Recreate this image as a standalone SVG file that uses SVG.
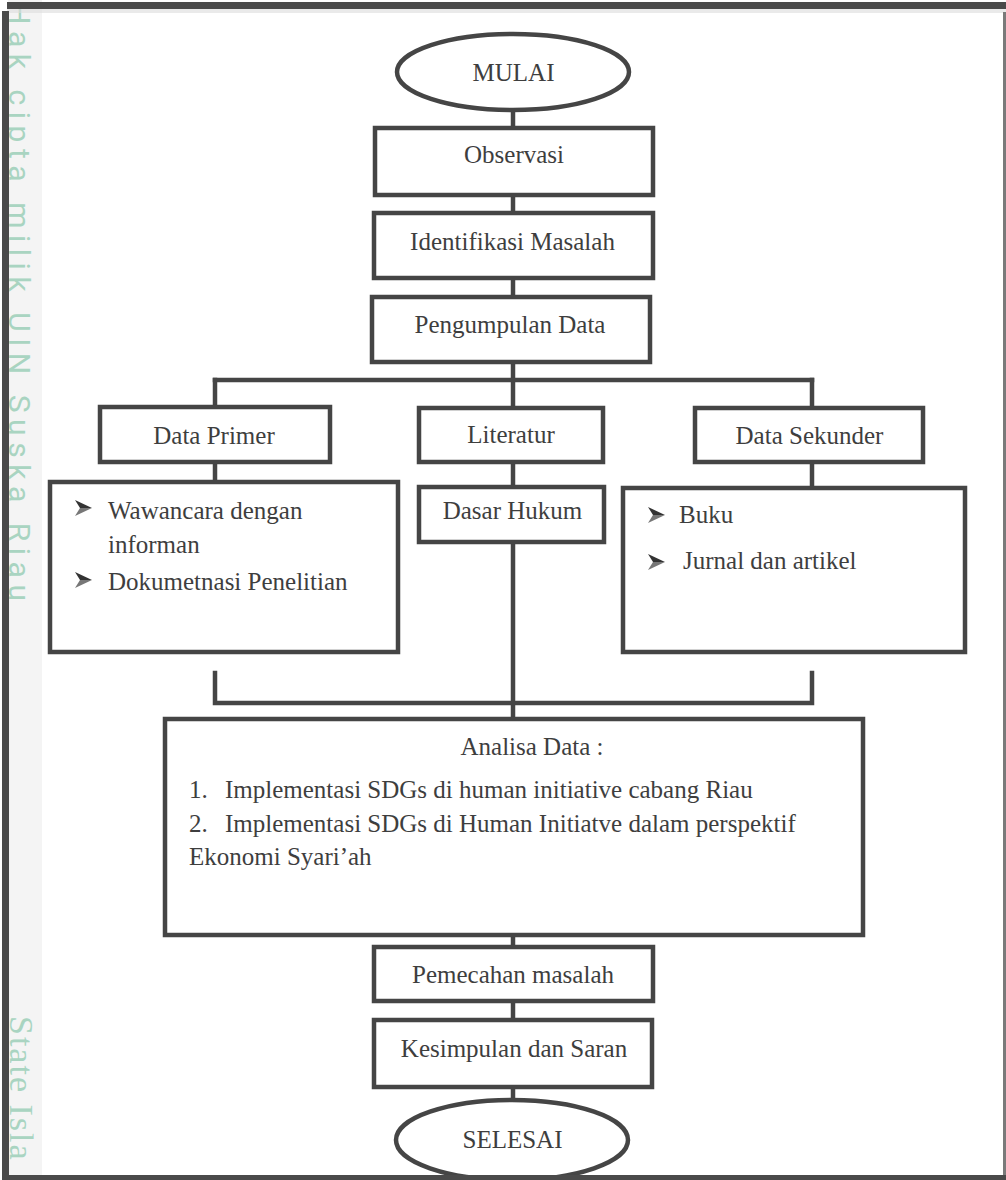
<svg xmlns="http://www.w3.org/2000/svg" width="1006" height="1180" viewBox="0 0 1006 1180">
  <defs>
    <style>
      .box { fill: #ffffff; stroke: #454545; stroke-width: 4.5; }
      .ln { fill: none; stroke: #454545; stroke-width: 4.5; stroke-linecap: square; }
      .t { font-family: "Liberation Serif", "Times New Roman", serif; font-size: 25px; fill: #3e3e3e; }
      .c { text-anchor: middle; }
      .wm { font-family: Roboto, "Liberation Sans", sans-serif; font-size: 30px; fill: #a9d4c1; }
      .wms { font-family: "Liberation Serif", "DejaVu Serif", serif; font-size: 34px; fill: #a9d4c1; }
    </style>
    <g id="bullet">
      <polygon points="0,-8 17,0 5,0" fill="#333333"/>
      <polygon points="0,8 17,0 5,0" fill="#777777"/>
    </g>
  </defs>

  <rect x="0" y="0" width="1006" height="1180" fill="#ffffff"/>

  <!-- watermark strip -->
  <rect x="8" y="0" width="34" height="1180" fill="#f4f4f4"/>
  <text class="wm" transform="translate(9,3) rotate(90)" textLength="598" lengthAdjust="spacing">Hak cipta milik UIN Suska Riau</text>
  <text class="wms" transform="translate(10,1016) rotate(90)" letter-spacing="2">State Isla</text>

  <!-- frame -->
  <rect x="7" y="2" width="999" height="7" fill="#4a4a4a"/>
  <rect x="7" y="9" width="999" height="4" fill="#dcdcdc" opacity="0.6"/>
  <rect x="1003" y="12" width="3" height="1168" fill="#7a7a7a"/>

  <!-- connectors -->
  <g id="connectors">
    <line class="ln" x1="513" y1="111" x2="513" y2="128"/>
    <line class="ln" x1="513" y1="195" x2="513" y2="213"/>
    <line class="ln" x1="513" y1="278" x2="513" y2="297"/>
    <line class="ln" x1="513" y1="362" x2="513" y2="408"/>
    <line class="ln" x1="215" y1="380" x2="812" y2="380"/>
    <line class="ln" x1="215" y1="380" x2="215" y2="407"/>
    <line class="ln" x1="812" y1="380" x2="812" y2="408"/>
    <line class="ln" x1="215" y1="462" x2="215" y2="482"/>
    <line class="ln" x1="513" y1="462" x2="513" y2="487"/>
    <line class="ln" x1="812" y1="462" x2="812" y2="488"/>
    <line class="ln" x1="513" y1="542" x2="513" y2="719"/>
    <polyline class="ln" points="215,673 215,703 812,703 812,673"/>
    <line class="ln" x1="513" y1="935" x2="513" y2="947"/>
    <line class="ln" x1="513" y1="1001" x2="513" y2="1020"/>
    <line class="ln" x1="513" y1="1087" x2="513" y2="1100"/>
  </g>

  <g id="mulai">
    <ellipse class="box" cx="513" cy="72" rx="116" ry="38"/>
    <text class="t c" x="513.5" y="81">MULAI</text>
  </g>

  <g id="observasi">
    <rect class="box" x="375" y="128" width="278" height="67"/>
    <text class="t c" x="514" y="163">Observasi</text>
  </g>

  <g id="identifikasi">
    <rect class="box" x="374" y="213" width="279" height="65"/>
    <text class="t c" x="512.5" y="250">Identifikasi Masalah</text>
  </g>

  <g id="pengumpulan">
    <rect class="box" x="372" y="297" width="278" height="65"/>
    <text class="t c" x="510" y="333">Pengumpulan Data</text>
  </g>

  <g id="data-primer">
    <rect class="box" x="100" y="407" width="230" height="55"/>
    <text class="t c" x="214" y="444">Data Primer</text>
  </g>

  <g id="literatur">
    <rect class="box" x="419" y="408" width="184" height="54"/>
    <text class="t c" x="511" y="443">Literatur</text>
  </g>

  <g id="data-sekunder">
    <rect class="box" x="695" y="408" width="228" height="54"/>
    <text class="t c" x="809.5" y="444">Data Sekunder</text>
  </g>

  <g id="primer-isi">
    <rect class="box" x="50" y="482" width="348" height="170"/>
    <use href="#bullet" x="75" y="508"/>
    <text class="t" x="108" y="519">Wawancara dengan</text>
    <text class="t" x="108" y="553">informan</text>
    <use href="#bullet" x="75" y="580"/>
    <text class="t" x="108" y="590">Dokumetnasi Penelitian</text>
  </g>

  <g id="dasar-hukum">
    <rect class="box" x="419" y="487" width="185" height="55"/>
    <text class="t c" x="512.5" y="519" font-size="23">Dasar Hukum</text>
  </g>

  <g id="sekunder-isi">
    <rect class="box" x="623" y="488" width="342" height="164"/>
    <use href="#bullet" x="648" y="515"/>
    <text class="t" x="679" y="523">Buku</text>
    <use href="#bullet" x="648" y="562"/>
    <text class="t" x="683" y="569">Jurnal dan artikel</text>
  </g>

  <g id="analisa">
    <rect class="box" x="165" y="719" width="698" height="216"/>
    <text class="t c" x="532" y="755" font-size="25.5">Analisa Data :</text>
    <text class="t" x="189" y="798" font-size="25.5">1.</text>
    <text class="t" x="225" y="798" font-size="25.5">Implementasi SDGs di human initiative cabang Riau</text>
    <text class="t" x="189" y="832" font-size="25.5">2.</text>
    <text class="t" x="225" y="832" font-size="25.5">Implementasi SDGs di Human Initiatve dalam perspektif</text>
    <text class="t" x="189" y="865" font-size="25.5">Ekonomi Syari’ah</text>
  </g>

  <g id="pemecahan">
    <rect class="box" x="374" y="947" width="279" height="54"/>
    <text class="t c" x="513" y="983">Pemecahan masalah</text>
  </g>

  <g id="kesimpulan">
    <rect class="box" x="374" y="1020" width="278" height="67"/>
    <text class="t c" x="514" y="1057">Kesimpulan dan Saran</text>
  </g>

  <g id="selesai">
    <ellipse class="box" cx="512" cy="1140" rx="116" ry="40"/>
    <text class="t c" x="512.5" y="1148">SELESAI</text>
  </g>

  <rect x="2" y="1175" width="1004" height="5" fill="#4a4a4a"/>
  <rect x="2" y="11" width="7" height="1169" fill="#4a4a4a"/>
</svg>
